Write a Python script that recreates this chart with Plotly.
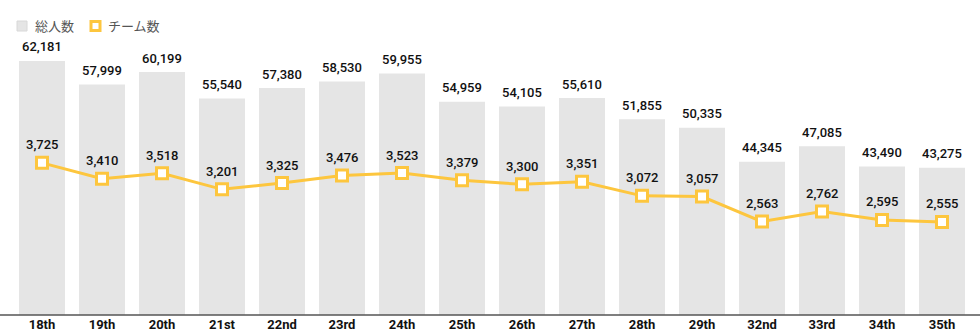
import plotly.graph_objects as go

categories = ["18th", "19th", "20th", "21st", "22nd", "23rd", "24th", "25th",
              "26th", "27th", "28th", "29th", "32nd", "33rd", "34th", "35th"]
total_people = [62181, 57999, 60199, 55540, 57380, 58530, 59955, 54959,
                54105, 55610, 51855, 50335, 44345, 47085, 43490, 43275]
team_count = [3725, 3410, 3518, 3201, 3325, 3476, 3523, 3379,
              3300, 3351, 3072, 3057, 2563, 2762, 2595, 2555]
legend_names = ["総人数", "チーム数"]

BAR_COLOR = "#e5e5e5"
LINE_COLOR = "#fdc63e"
FONT = "Roboto, 'Noto Sans CJK JP', sans-serif"
JP_FONT = "'Noto Sans CJK JP', sans-serif"

# plot area in pixels (for paper-coordinate legend placement)
L, R, T, B, W, H = 12, 8, 35, 17, 980, 332
PW, PH = W - L - R, H - T - B


def px(xp):
    return (xp - L) / PW


def py(yp):
    return (H - B - yp) / PH


fig = go.Figure()

fig.add_trace(go.Bar(
    x=categories, y=total_people, name=legend_names[0],
    marker=dict(color=BAR_COLOR, line=dict(width=0)),
    hoverinfo="skip", showlegend=False,
))

fig.add_trace(go.Scatter(
    x=categories, y=team_count, yaxis="y2", mode="lines+markers",
    name=legend_names[1],
    line=dict(color=LINE_COLOR, width=3),
    marker=dict(symbol="square", size=11, color="white",
                line=dict(color=LINE_COLOR, width=3)),
    showlegend=False, hoverinfo="skip",
))

annotations = []
for c, v in zip(categories, total_people):
    annotations.append(dict(
        x=c, y=v, xref="x", yref="y", text=f"{v:,}", showarrow=False,
        yshift=14, font=dict(family=FONT, size=13, color="#111", weight=500),
    ))
for c, v in zip(categories, team_count):
    annotations.append(dict(
        x=c, y=v, xref="x", yref="y2", text=f"{v:,}", showarrow=False,
        yshift=18, font=dict(family=FONT, size=13, color="#111", weight=500),
    ))

# manual legend
annotations.append(dict(x=px(33), y=py(26), xref="paper", yref="paper",
                        xanchor="left", yanchor="middle", showarrow=False,
                        text=legend_names[0],
                        font=dict(family=JP_FONT, size=13, color="#555")))
annotations.append(dict(x=px(106), y=py(26), xref="paper", yref="paper",
                        xanchor="left", yanchor="middle", showarrow=False,
                        text=legend_names[1],
                        font=dict(family=JP_FONT, size=13, color="#555")))

shapes = [
    dict(type="line", xref="paper", yref="paper",
         x0=px(0), x1=px(W), y0=0, y1=0,
         line=dict(color="#555", width=1.5)),
    dict(type="rect", xref="paper", yref="paper",
         x0=px(17), x1=px(27), y0=py(31), y1=py(21),
         fillcolor=BAR_COLOR, line=dict(color="#d8d8d8", width=1)),
    dict(type="rect", xref="paper", yref="paper",
         x0=px(91), x1=px(100), y0=py(30.5), y1=py(21.5),
         fillcolor="white", line=dict(color=LINE_COLOR, width=3)),
]

fig.update_layout(
    width=W, height=H,
    margin=dict(l=L, r=R, t=T, b=B),
    paper_bgcolor="white", plot_bgcolor="white",
    bargap=0.233,
    font=dict(family=FONT),
    showlegend=False,
    xaxis=dict(type="category", range=[-0.5, len(categories) - 0.5],
               showgrid=False, showline=False, ticks="",
               zeroline=False, automargin=False,
               tickfont=dict(family=FONT, size=13, color="#111", weight="bold")),
    yaxis=dict(range=[17200, 66770], visible=False, fixedrange=True),
    yaxis2=dict(range=[715, 6254], overlaying="y", visible=False),
    annotations=annotations,
    shapes=shapes,
)

fig.write_html("out.html")
